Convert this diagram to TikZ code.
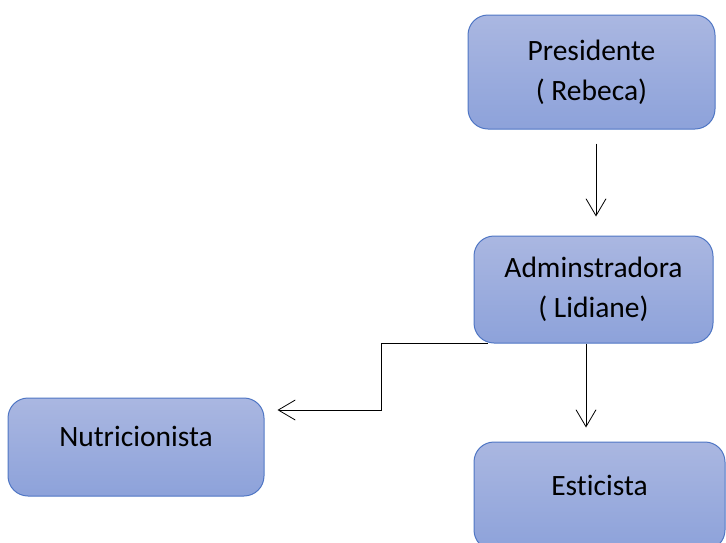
\documentclass[tikz,border=0pt]{standalone}
\usepackage{fontspec}
\setmainfont[Ligatures=NoCommon]{Carlito}
\usetikzlibrary{arrows.meta}
\definecolor{boxtop}{RGB}{170,183,225}
\definecolor{boxbot}{RGB}{141,162,218}
\definecolor{boxline}{RGB}{79,118,196}
\begin{document}
\begin{tikzpicture}[x=1pt,y=-1pt]
	\tikzset{role/.style={draw=boxline,line width=1pt,rounded corners=20pt,top color=boxtop,bottom color=boxbot,align=center,font=\fontsize{29.5}{40}\selectfont,inner sep=0pt},
		oneline/.style={text depth=22pt},
		link/.style={line width=0.8pt,-{Straight Barb[length=17pt,width=20pt,line width=0.8pt]}}}
	
	% Page size
	\useasboundingbox (0,0) rectangle (726,542);
	\clip (0,0) rectangle (726,542);
	
	% The boxes
	\node[role,minimum width=247pt,minimum height=114pt] (pres) at (591.5,72) {Presidente\\( Rebeca)};
	\node[role,minimum width=239pt,minimum height=107pt] (admin) at (593.5,289.5) {Adminstradora\\( Lidiane)};
	\node[role,oneline,minimum width=256pt,minimum height=98pt] (nutri) at (136,447) {Nutricionista};
	\node[role,oneline,minimum width=251pt,minimum height=108pt] (est) at (599.5,496) {Esticista};
	
	% Arrows
	\draw[link] ([xshift=4.5pt,yshift=-14pt]pres.south) -- ([xshift=2.5pt,yshift=19pt]admin.north);
	\draw[link] ([xshift=-7.5pt]admin.south) -- ([xshift=-13.5pt,yshift=14pt]est.north);
	\draw[link] ([xshift=14pt]admin.south west) -- ++(-106,0) |- ([xshift=13pt,yshift=37pt]nutri.east);
	
\end{tikzpicture}
\end{document}
